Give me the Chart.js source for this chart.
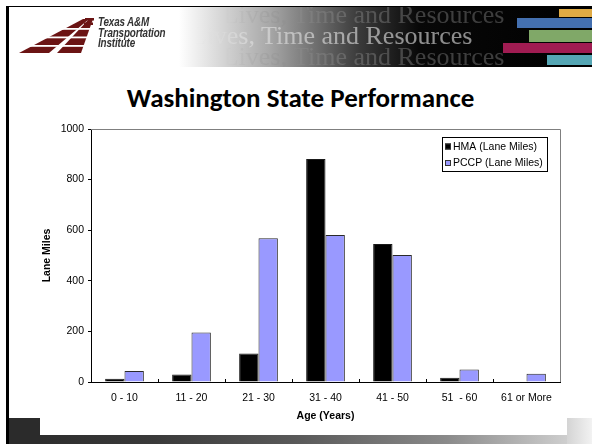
<!DOCTYPE html>
<html>
<head>
<meta charset="utf-8">
<script src="https://cdn.jsdelivr.net/npm/chart.js@4/dist/chart.umd.min.js"></script>
<style>
  html, body { margin: 0; padding: 0; background: #fff; }
  #page { position: relative; width: 592px; height: 444px; overflow: hidden; background: #fff; }
  .abs { position: absolute; }
  #leftRule { left: 6px; top: 6px; width: 3px; height: 438px; background: #000; }
  #topRule { left: 6px; top: 6px; width: 586px; height: 1px; background: #000; }
  #header { left: 9px; top: 7px; width: 583px; height: 60px; overflow: hidden;
    background: linear-gradient(90deg, #fff 0px, #fff 170px, #a8a8a8 260px, #3a3a3a 350px, #080808 410px, #000 100%); }
  .slogan { position: absolute; font-family: "Liberation Serif", "DejaVu Serif", serif; font-size: 26px;
    line-height: 26px; white-space: nowrap; }
  .slogan.mid {
    -webkit-mask-image: linear-gradient(90deg, transparent 0px, transparent 83px, #000 128px);
    mask-image: linear-gradient(90deg, transparent 0px, transparent 83px, #000 128px); }
  .slogan.side {
    -webkit-mask-image: linear-gradient(90deg, transparent 0px, transparent 82px, #000 150px);
    mask-image: linear-gradient(90deg, transparent 0px, transparent 82px, #000 150px); }
  #logoText { left: 89px; top: 10px; font-family: "Liberation Sans", Arial, sans-serif; font-weight: bold;
    font-style: italic; font-size: 13px; line-height: 10.5px; color: #333; transform-origin: 0 0;
    transform: scaleX(0.76); letter-spacing: -0.2px; }
  .bar { position: absolute; }
  #title { left: 9px; width: 583px; top: 81px; text-align: center; font-family: Carlito, Lato, "Open Sans", sans-serif;
    font-weight: bold; font-size: 27px; color: #000; }
  #bottomBand { left: 9px; top: 435px; width: 583px; height: 9px;
    background: linear-gradient(90deg, #2a2a2a 0%, #3a3a3a 25%, #5a5a5a 50%, #8a8a8a 75%, #dcdcdc 100%); }
  #bottomLeft { left: 9px; top: 418px; width: 31px; height: 26px; background: #2b2b2b; }
  #bottomRight { left: 567px; top: 418px; width: 25px; height: 26px;
    background: linear-gradient(90deg, #d4d4d4, #f2f2f2); }
  #chart { position: absolute; left: 0; top: 0; }
</style>
</head>
<body>
<div id="page">
  <div class="abs" id="header">
    <div class="slogan side" style="left:135px; top:-5px; color:rgba(140,140,140,0.42);">Saving Lives, Time and Resources</div>
    <div class="slogan mid" style="left:103px; top:16px; color:rgba(225,225,225,0.62);">Saving Lives, Time and Resources</div>
    <div class="slogan side" style="left:135px; top:37px; color:rgba(140,140,140,0.42);">Saving Lives, Time and Resources</div>
    <div class="bar" style="left:550px; top:2px; width:33px; height:8px; background:#dfaa44;"></div>
    <div class="bar" style="left:508px; top:11px; width:75px; height:10px; background:#4470b0;"></div>
    <div class="bar" style="left:520px; top:23px; width:63px; height:12px; background:#80a868;"></div>
    <div class="bar" style="left:494px; top:36px; width:89px; height:10px; background:#a01c52;"></div>
    <div class="bar" style="left:538px; top:48px; width:45px; height:10px; background:#55a6b4;"></div>
    <svg class="abs" style="left:-4px; top:0;" width="120" height="60">
      <g fill="#6b1414">
        <polygon points="14,46 44,46 84,12 78,12"/>
        <polygon points="52,46 76,46 88,12 84,12"/>
        <rect x="80" y="11" width="9" height="2.5"/>
        <rect x="79" y="15.5" width="9" height="2.5"/>
      </g>
      <g fill="#fff">
        <rect x="0" y="21" width="120" height="1.8"/>
        <rect x="0" y="29.5" width="120" height="1.8"/>
        <rect x="0" y="38" width="120" height="1.8"/>
      </g>
    </svg>
    <div class="abs" id="logoText">Texas A&amp;M<br>Transportation<br>Institute</div>
  </div>
  <div class="abs" id="topRule"></div>
  <div class="abs" id="leftRule"></div>
  <div class="abs" id="title">Washington State Performance</div>
  <div class="abs" id="bottomBand"></div>
  <div class="abs" id="bottomLeft"></div>
  <div class="abs" id="bottomRight"></div>
  <canvas id="chart" width="592" height="444"></canvas>
</div>
<script>
// Lane miles by pavement age group
const categories = ['0 - 10', '11 - 20', '21 - 30', '31 - 40', '41 - 50', '51  - 60', '61 or More'];
const hmaLaneMiles = [13, 30, 113, 881, 545, 17, 0];
const pccpLaneMiles = [43, 196, 568, 581, 502, 49, 33];
const yTicks = [0, 200, 400, 600, 800, 1000];

const FONT = '"Liberation Sans", Arial, sans-serif';

// Grey frame on the top/right of the plot and small inward ticks between categories
const frameAndTicks = {
  id: 'frameAndTicks',
  beforeDatasetsDraw(chart) {
    const { ctx, chartArea: a, scales: { x } } = chart;
    ctx.save();
    ctx.strokeStyle = '#7f7f7f';
    ctx.lineWidth = 1;
    ctx.beginPath();
    ctx.moveTo(a.left, a.top + 0.5);
    ctx.lineTo(a.right + 0.5, a.top + 0.5);
    ctx.lineTo(a.right + 0.5, a.bottom);
    ctx.stroke();
    ctx.strokeStyle = '#000';
    ctx.beginPath();
    for (let i = 1; i < categories.length; i++) {
      const px = Math.round(x.getPixelForValue(i - 0.5)) + 0.5;
      ctx.moveTo(px, a.bottom);
      ctx.lineTo(px, a.bottom - 3);
    }
    ctx.stroke();
    ctx.restore();
  }
};

// Boxed legend inside the upper right of the plot
const boxedLegend = {
  id: 'boxedLegend',
  afterDraw(chart) {
    const { ctx } = chart;
    const bx = 442, by = 137, bw = 105, bh = 34;
    ctx.save();
    ctx.fillStyle = '#fff';
    ctx.fillRect(bx, by, bw, bh);
    ctx.strokeStyle = '#000';
    ctx.lineWidth = 1;
    ctx.strokeRect(bx + 0.5, by + 0.5, bw, bh);
    ctx.font = '10.5px ' + FONT;
    ctx.textBaseline = 'middle';
    chart.data.datasets.forEach((ds, i) => {
      const cy = by + 9.5 + i * 16.5;
      ctx.fillStyle = ds.backgroundColor;
      ctx.fillRect(bx + 3, cy - 3, 6, 6);
      ctx.strokeStyle = '#333';
      ctx.strokeRect(bx + 3.5, cy - 2.5, 5, 5);
      ctx.fillStyle = '#000';
      ctx.fillText(ds.label, bx + 11, cy + 0.5);
    });
    ctx.restore();
  }
};

new Chart(document.getElementById('chart'), {
  type: 'bar',
  data: {
    labels: categories,
    datasets: [
      { label: 'HMA (Lane Miles)', data: hmaLaneMiles, backgroundColor: '#000000',
        borderColor: '#1a1a1a', borderWidth: 1 },
      { label: 'PCCP (Lane Miles)', data: pccpLaneMiles, backgroundColor: '#9999ff',
        borderColor: '#2a2a2a', borderWidth: 1 }
    ]
  },
  options: {
    responsive: false,
    animation: false,
    devicePixelRatio: 1,
    categoryPercentage: 0.578,
    barPercentage: 1.0,
    layout: { padding: { left: 30, right: 32, top: 129, bottom: 18 } },
    plugins: { legend: { display: false }, tooltip: { enabled: false } },
    scales: {
      x: {
        offset: true,
        grid: { display: false, drawTicks: false },
        border: { display: true, color: '#000', width: 1 },
        ticks: { color: '#000', font: { family: FONT, size: 10.5 }, padding: 10,
          maxRotation: 0, autoSkip: false },
        title: { display: true, text: 'Age (Years)', color: '#000',
          font: { family: FONT, size: 10.5, weight: 'bold' }, padding: { top: 0, bottom: 4 } },
        afterFit(s) { s.height = 44; }
      },
      y: {
        min: 0, max: 1000,
        afterBuildTicks(s) { s.ticks = yTicks.map(v => ({ value: v })); },
        grid: { drawOnChartArea: false, drawTicks: true, tickLength: 3, color: '#000' },
        border: { display: true, color: '#000', width: 1 },
        ticks: { color: '#000', font: { family: FONT, size: 10.5 }, padding: 4,
          callback: v => String(v) },
        title: { display: true, text: 'Lane Miles', color: '#000',
          font: { family: FONT, size: 10.5, weight: 'bold' }, padding: { top: 11, bottom: 0 } },
        afterFit(s) { s.width = 61; }
      }
    }
  },
  plugins: [frameAndTicks, boxedLegend]
});
</script>
</body>
</html>
